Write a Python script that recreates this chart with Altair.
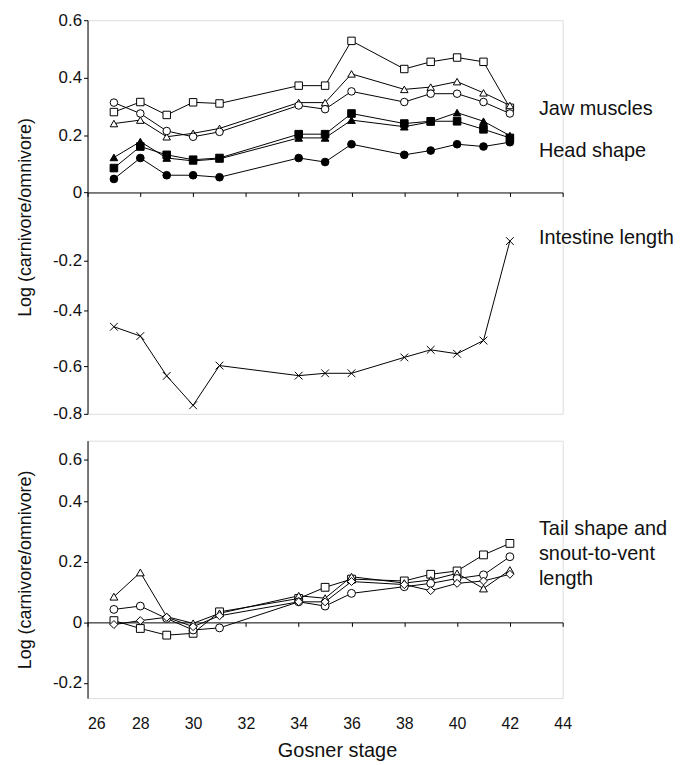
import altair as alt
import pandas as pd

stages = [27, 28, 29, 30, 31, 34, 35, 36, 38, 39, 40, 41, 42]

# Top panel: jaw muscles (open symbols) and head shape (filled symbols)
jaw_square = [0.28, 0.315, 0.27, 0.314, 0.31, 0.372, 0.372, 0.528, 0.43, 0.455, 0.47, 0.455, 0.295]
jaw_triangle = [0.24, 0.252, 0.194, 0.206, 0.223, 0.313, 0.313, 0.413, 0.359, 0.367, 0.386, 0.347, 0.303]
jaw_circle = [0.313, 0.275, 0.214, 0.194, 0.211, 0.303, 0.29, 0.352, 0.315, 0.344, 0.344, 0.315, 0.275]
head_square = [0.085, 0.16, 0.131, 0.114, 0.12, 0.203, 0.203, 0.275, 0.24, 0.248, 0.248, 0.22, 0.19]
head_triangle = [0.122, 0.177, 0.12, 0.11, 0.117, 0.19, 0.19, 0.252, 0.229, 0.246, 0.278, 0.248, 0.198]
head_circle = [0.047, 0.12, 0.06, 0.06, 0.053, 0.12, 0.106, 0.168, 0.131, 0.146, 0.168, 0.16, 0.175]
intestine = [-0.459, -0.492, -0.64, -0.764, -0.597, -0.639, -0.629, -0.629, -0.568, -0.541, -0.555, -0.508, -0.143]

# Bottom panel: tail shape and snout-to-vent length
tail_square = [0.006, -0.02, -0.042, -0.036, 0.035, 0.079, 0.116, 0.143, 0.137, 0.159, 0.17, 0.223, 0.261]
tail_triangle = [0.085, 0.165, 0.019, -0.003, 0.03, 0.088, 0.08, 0.151, 0.13, 0.14, 0.162, 0.112, 0.173]
tail_circle = [0.043, 0.054, 0.013, -0.025, -0.018, 0.068, 0.054, 0.096, 0.118, 0.129, 0.145, 0.157, 0.217]
tail_diamond = [-0.007, 0.006, 0.017, -0.014, 0.022, 0.068, 0.068, 0.135, 0.125, 0.105, 0.129, 0.137, 0.159]

x_ticks = [26, 28, 30, 32, 34, 36, 38, 40, 42, 44]
top_y_ticks = [-0.8, -0.6, -0.4, -0.2, 0, 0.2, 0.4, 0.6]
bottom_y_ticks = [-0.2, 0, 0.2, 0.4, 0.6]

top_labels = ["Jaw muscles", "Head shape", "Intestine length"]
top_label_x = [43.1, 43.1, 43.1]
top_label_y = [0.292, 0.146, -0.134]
bottom_labels = ["Tail shape and", "snout-to-vent", "length"]
bottom_label_x = [43.1, 43.1, 43.1]
bottom_label_y = [0.308, 0.225, 0.143]

X_PATH = "M-1,-1L1,1M-1,1L1,-1"

top_series = {
    "jaw_sq": jaw_square, "jaw_tri": jaw_triangle, "jaw_circ": jaw_circle,
    "head_sq": head_square, "head_tri": head_triangle, "head_circ": head_circle,
    "intestine": intestine,
}
bottom_series = {
    "tail_sq": tail_square, "tail_tri": tail_triangle,
    "tail_circ": tail_circle, "tail_dia": tail_diamond,
}
series_names = list(top_series) + list(bottom_series)
series_shapes = ["square", "triangle-up", "circle", "square", "triangle-up", "circle", X_PATH,
                 "square", "triangle-up", "circle", "diamond"]
series_fills = ["white", "white", "white", "black", "black", "black", "white",
                "white", "white", "white", "white"]
series_sizes = [56, 64, 44, 42, 52, 24, 50, 56, 64, 44, 60]

def long_df(series):
    rows = []
    for name, vals in series.items():
        for s, v in zip(stages, vals):
            rows.append({"stage": s, "value": v, "series": name})
    return pd.DataFrame(rows)

top_df = long_df(top_series)
bot_df = long_df(bottom_series)
top_lab_df = pd.DataFrame({"stage": top_label_x, "value": top_label_y, "label": top_labels})
bot_lab_df = pd.DataFrame({"stage": bottom_label_x, "value": bottom_label_y, "label": bottom_labels})

FONT = "Liberation Sans"
W = 478
H_TOP = 396
H_BOT = 259

x_scale = alt.Scale(domain=[26, 44], nice=False, zero=False)
label_expr = "datum.value < 0 ? '-' + format(-datum.value, '') : format(datum.value, '')"

y_title = "Log (carnivore/omnivore)"

def y_axis(ticks):
    return alt.Axis(values=ticks, labelExpr=label_expr, title=y_title, grid=False,
                    tickSize=4, tickColor="black", domainColor="black",
                    labelFont=FONT, labelFontSize=17, labelColor="#111",
                    labelPadding=2, titleFont=FONT, titleFontSize=18,
                    titleFontWeight="normal", titleColor="#111", titlePadding=18)

top_y_scale = alt.Scale(domain=[-0.8, -0.6, -0.4, -0.2, 0, 0.6],
                        range=[396, 348.3, 291.7, 241.7, 173.3, 0], nice=False, zero=False)
bot_y_scale = alt.Scale(domain=[-0.25, 0.4, 0.69], range=[259, 61, 0], nice=False, zero=False)

top_zero_axis = alt.Axis(orient="bottom", offset=-(396 - 173.3), values=x_ticks, labels=False,
                         tickSize=4, tickColor="black", domainColor="black", grid=False, title=None)
bot_zero_axis = alt.Axis(orient="bottom", offset=-(259 - 182.8), values=x_ticks, labels=False,
                         tickSize=4, tickColor="black", domainColor="black", grid=False, title=None)
bot_label_axis = alt.Axis(orient="bottom", offset=16, values=x_ticks, domain=False, ticks=False,
                          grid=False, labelFont=FONT, labelFontSize=16, labelColor="#111",
                          labelPadding=2,
                          labelAlign={"condition": {"test": "datum.value <= 26", "value": "left"}, "value": "center"},
                          title="Gosner stage", titleFont=FONT, titleFontSize=20,
                          titleFontWeight="normal", titleColor="#111", titlePadding=9, titleX=251)

shape_scale = alt.Scale(domain=series_names, range=series_shapes)
fill_scale = alt.Scale(domain=series_names, range=series_fills)
size_scale = alt.Scale(domain=series_names, range=series_sizes)

def panel(df, lab_df, y_scale, y_ticks, zero_axis, height, label_axis=None):
    ya = y_axis(y_ticks)
    lines = alt.Chart(df).mark_line(color="black", strokeWidth=1).encode(
        x=alt.X("stage:Q", scale=x_scale, axis=zero_axis),
        y=alt.Y("value:Q", scale=y_scale, axis=ya),
        detail="series:N",
    )
    points = alt.Chart(df).mark_point(stroke="black", strokeWidth=1, opacity=1, fillOpacity=1).encode(
        x=alt.X("stage:Q", scale=x_scale, axis=None),
        y=alt.Y("value:Q", scale=y_scale, axis=ya),
        shape=alt.Shape("series:N", scale=shape_scale, legend=None),
        fill=alt.Fill("series:N", scale=fill_scale, legend=None),
        size=alt.Size("series:N", scale=size_scale, legend=None),
    )
    texts = alt.Chart(lab_df).mark_text(align="left", baseline="middle", font=FONT,
                                        fontSize=20, color="#111", clip=False).encode(
        x=alt.X("stage:Q", scale=x_scale, axis=label_axis),
        y=alt.Y("value:Q", scale=y_scale, axis=ya),
        text="label:N",
    )
    return alt.layer(lines, points, texts).resolve_axis(x="independent").properties(
        width=W, height=height)

top = panel(top_df, top_lab_df, top_y_scale, top_y_ticks, top_zero_axis, H_TOP)
bottom = panel(bot_df, bot_lab_df, bot_y_scale, bottom_y_ticks, bot_zero_axis, H_BOT,
               label_axis=bot_label_axis)

chart = alt.vconcat(top, bottom, spacing=17).properties(
    padding={"left": 8, "top": 0, "right": 0, "bottom": 0}
).configure_view(stroke=None).configure(background="white")

chart.save("out.html", embed_options={"renderer": "svg", "actions": False})
